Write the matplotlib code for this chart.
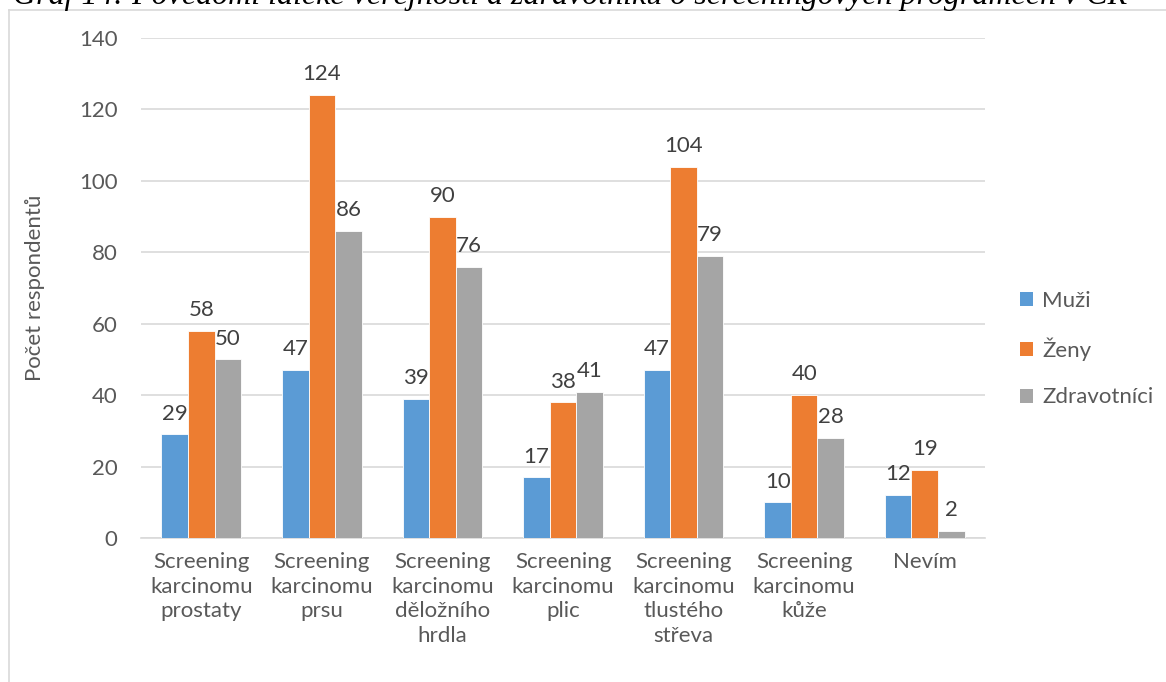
import numpy as np
import matplotlib.pyplot as plt
from matplotlib.lines import Line2D
from matplotlib.patches import Patch

plt.rcParams['font.family'] = ['Lato', 'DejaVu Sans']

categories = ['Screening\nkarcinomu\nprostaty', 'Screening\nkarcinomu\nprsu',
              'Screening\nkarcinomu\nděložního\nhrdla', 'Screening\nkarcinomu\nplic',
              'Screening\nkarcinomu\ntlustého\nstřeva', 'Screening\nkarcinomu\nkůže', 'Nevím']
muzi = [29, 47, 39, 17, 47, 10, 12]
zeny = [58, 124, 90, 38, 104, 40, 19]
zdravotnici = [50, 86, 76, 41, 79, 28, 2]
series_names = ['Muži', 'Ženy', 'Zdravotníci']
colors = ['#5B9BD5', '#ED7D31', '#A5A5A5']

W, H = 1166, 682
FS = 16
fig = plt.figure(figsize=(W / 100, H / 100), dpi=100)
ax = fig.add_axes([141 / W, 1 - 538 / H, (985 - 141) / W, (538 - 38) / H])

x = np.arange(len(categories))
bw = 0.22
for i, (vals, col) in enumerate(zip([muzi, zeny, zdravotnici], colors)):
    pos = x + (i - 1) * bw
    ax.bar(pos, vals, width=bw, color=col, edgecolor='white', linewidth=0.6, zorder=3)
    for p, v in zip(pos, vals):
        ax.text(p, v + 3.0, str(v), ha='center', va='bottom', fontsize=FS, color='#404040')

ax.set_xlim(-0.5, len(categories) - 0.5)
ax.set_ylim(0, 140)
ax.set_yticks(range(0, 141, 20))
ax.grid(axis='y', color='#D9D9D9', linewidth=1.2, zorder=0)
for s in ['top', 'right', 'left']:
    ax.spines[s].set_visible(False)
ax.spines['bottom'].set_color('#D9D9D9')
ax.spines['bottom'].set_linewidth(1.2)
ax.tick_params(axis='both', length=0, labelsize=FS, labelcolor='#595959')
ax.tick_params(axis='y', pad=17)
ax.tick_params(axis='x', pad=10)
ax.set_xticks(x)
ax.set_xticklabels(categories, linespacing=1.3)
ax.set_ylabel('Počet respondentů', fontsize=FS, color='#595959', labelpad=24)

handles = [Patch(facecolor=c, edgecolor='none') for c in colors]
fig.legend(handles, series_names, loc='center left', bbox_to_anchor=(1000 / W, 1 - 349 / H),
           frameon=False, fontsize=FS, labelcolor='#595959', handlelength=0.6,
           handleheight=0.6, handletextpad=0.4, labelspacing=1.2)

# outer chart frame
fig.add_artist(Line2D([8.5 / W, 8.5 / W], [0, 1 - 10 / H], color='#D9D9D9', linewidth=1.2))
fig.add_artist(Line2D([8.5 / W, 1], [1 - 10 / H, 1 - 10 / H], color='#D9D9D9', linewidth=1.2))

fig.text(13 / W, 1 - 4 / H,
         'Graf 14: Povědomí laické veřejnosti a zdravotníků o screeningových programech v ČR',
         family='Liberation Serif', style='italic', fontsize=23, ha='left', va='baseline')

fig.savefig('out.png', dpi=100)
